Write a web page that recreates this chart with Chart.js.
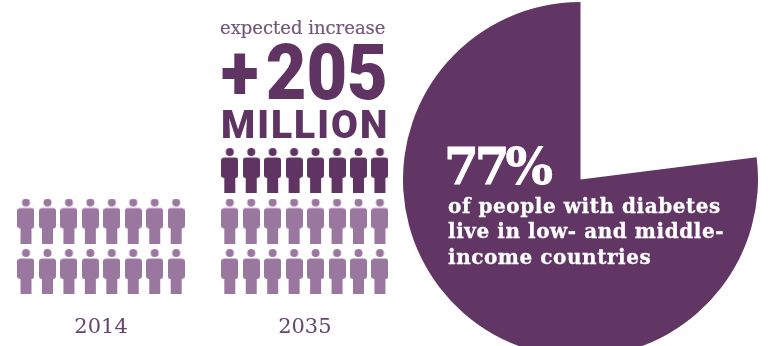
<!DOCTYPE html>
<html>
<head>
<meta charset="utf-8">
<script src="https://cdn.jsdelivr.net/npm/chart.js@4/dist/chart.umd.min.js"></script>
<style>
  html, body { margin: 0; background: #fff; overflow: hidden; }
  #wrap { position: relative; width: 769px; height: 346px; overflow: hidden; }
  canvas { position: absolute; }
  #peopleChart { left: 0; top: 0; }
  #pieChart { left: 403px; top: 2px; }
  .txt { position: absolute; white-space: nowrap; line-height: 1; }
  #expected { left: 220px; top: 17px; font: 18px "DejaVu Serif"; color: #75557c; -webkit-text-stroke: .2px #75557c; }
  #plus { left: 221px; top: 27px; font: 900 78px "Roboto"; color: #5f3362; transform: scaleX(.9); transform-origin: left top; }
  #plus span { margin-right: 8px; }
  #million { left: 221px; top: 102px; font: 900 39px "Roboto"; color: #5f3362; letter-spacing: 2px; }
  #pct { left: 444px; top: 137px; font: bold 50px "DejaVu Serif"; color: #fff; letter-spacing: -4px; -webkit-text-stroke: .8px #fff; }
  .note { left: 448px; font: bold 20px "DejaVu Serif"; color: #fff; letter-spacing: .55px; -webkit-text-stroke: .3px #fff; }
</style>
</head>
<body>
<div id="wrap">
  <canvas id="peopleChart" width="400" height="346"></canvas>
  <canvas id="pieChart" width="355" height="355"></canvas>
  <div class="txt" id="expected">expected increase</div>
  <div class="txt" id="plus"><span>+</span>205</div>
  <div class="txt" id="million">MILLION</div>
  <div class="txt" id="pct">77%</div>
  <div class="txt note" style="top:194px">of people with diabetes</div>
  <div class="txt note" style="top:219px">live in low- and middle-</div>
  <div class="txt note" style="top:245px">income countries</div>
</div>
<script>
const years = ['2014', '2035'];
const groupStart = [0, 9.5];     // first column of each group
const baseRows = [2, 2];         // rows of light figures per year
const addedRows = [0, 1];        // rows of dark figures on top
const perRow = 8;
const pieLabels = ['other', 'low- and middle-income countries'];
const pieValues = [23, 77];

const LIGHT = '#9a779f';
const DARK = '#5f3362';

// One little person, used as the point style
function makePerson(color) {
    const c = document.createElement('canvas');
    c.width = 17;
    c.height = 45;
    const g = c.getContext('2d');
    g.fillStyle = color;
    g.beginPath();
    g.arc(8.5, 4, 4, 0, Math.PI * 2);
    g.fill();
    g.beginPath();
    g.roundRect(0, 9.5, 17, 20.5, 3);
    g.fill();
    g.fillRect(3, 28, 11, 17);
    return c;
}

// Build the grid of figures for every year
function buildPoints(rowsFor, firstRowFor) {
    const pts = [];
    years.forEach((y, i) => {
        for (let r = 0; r < rowsFor[i]; r++) {
            for (let col = 0; col < perRow; col++) {
                pts.push({ x: groupStart[i] + col, y: firstRowFor(i) + r });
            }
        }
    });
    return pts;
}

new Chart(document.getElementById('peopleChart'), {
    type: 'scatter',
    data: {
        datasets: [
            { label: 'current', data: buildPoints(baseRows, () => 0), pointStyle: makePerson(LIGHT) },
            { label: 'increase', data: buildPoints(addedRows, i => baseRows[i]), pointStyle: makePerson(DARK) }
        ]
    },
    options: {
        responsive: false,
        animation: false,
        layout: { padding: 0, autoPadding: false },
        plugins: { legend: { display: false }, tooltip: { enabled: false } },
        scales: {
            x: {
                type: 'linear',
                min: -1.212,
                max: 17.436,
                grid: { display: false },
                border: { display: false },
                afterFit: s => { s.height = 46; },
                afterBuildTicks: s => {
                    s.ticks = groupStart.map(v => ({ value: v + (perRow - 1) / 2 }));
                },
                ticks: {
                    autoSkip: false,
                    maxRotation: 0,
                    padding: 7,
                    color: '#65456d',
                    font: { family: 'DejaVu Serif', size: 21 },
                    callback: (v, i) => years[i]
                }
            },
            y: { display: false, min: -0.564, max: 5.376 }
        }
    }
});

new Chart(document.getElementById('pieChart'), {
    type: 'pie',
    data: {
        labels: pieLabels,
        datasets: [{
            data: pieValues,
            backgroundColor: ['rgba(0,0,0,0)', '#613564'],
            borderWidth: 0
        }]
    },
    options: {
        responsive: false,
        animation: false,
        plugins: { legend: { display: false }, tooltip: { enabled: false } }
    }
});
</script>
</body>
</html>
